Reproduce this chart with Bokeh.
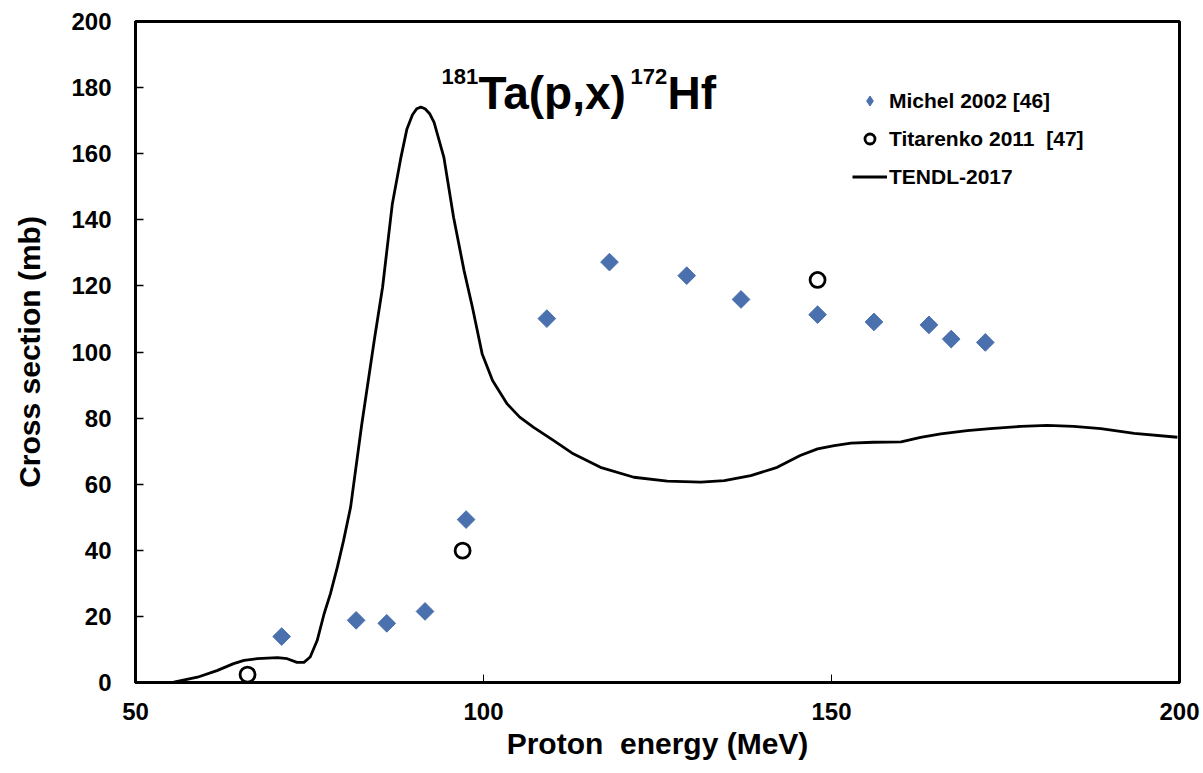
import math
from bokeh.plotting import figure
from bokeh.models import Label, Legend, LegendItem, FixedTicker, Range1d
from bokeh.embed import file_html
from bokeh.resources import INLINE

# ---------------- data ----------------
michel_energy = [71.0, 81.7, 86.1, 91.6, 97.5, 109.1, 118.1, 129.2, 137.0,
                 148.0, 156.1, 164.0, 167.2, 172.1]
michel_xs = [13.9, 18.8, 17.9, 21.5, 49.3, 110.1, 127.2, 123.1, 115.9,
             111.3, 109.1, 108.2, 103.9, 102.9]

titarenko_energy = [66.1, 97.0, 148.0]
titarenko_xs = [2.4, 39.9, 121.8]

tendl_energy = [55.5, 58.9, 61.7, 64.1, 65.6, 67.5, 70.4, 71.8, 73.2, 74.2,
                75.1, 76.1, 77.1, 78.0, 79.0, 79.9, 80.9, 82.5, 84.3, 85.5,
                86.9, 88.1, 89.0, 89.8, 90.4, 91.0, 91.6, 92.3, 92.9, 94.3,
                95.7, 97.2, 98.4, 99.8, 101.3, 103.4, 105.2, 107.2, 110.1,
                112.9, 116.8, 121.6, 126.4, 131.2, 134.6, 138.4, 142.2,
                145.5, 148.0, 150.4, 152.8, 156.0, 160.0, 162.8, 165.7,
                169.5, 172.8, 177.2, 181.0, 184.8, 188.7, 193.5, 199.7]
tendl_xs = [0.1, 1.6, 3.6, 5.7, 6.7, 7.2, 7.5, 7.2, 6.1, 6.1,
            7.7, 12.7, 20.8, 26.8, 34.9, 43.0, 53.0, 78.0, 103.5, 119.6,
            144.8, 158.5, 167.5, 171.8, 173.6, 174.1, 173.6, 172.0, 169.5, 159.0,
            140.8, 124.7, 113.6, 99.5, 91.4, 84.3, 80.3, 77.2, 73.2,
            69.2, 65.1, 62.1, 60.9, 60.6, 61.1, 62.6, 65.1,
            68.7, 70.7, 71.7, 72.4, 72.7, 72.8, 74.2, 75.2,
            76.2, 76.8, 77.5, 77.8, 77.5, 76.8, 75.4, 74.2]

x_ticks = [50, 100, 150, 200]
y_ticks = [0, 20, 40, 60, 80, 100, 120, 140, 160, 180, 200]

FONT = "Liberation Sans"
BLUE = "#4A70AE"

# ---------------- figure ----------------
W, H = 1203, 773
BL, BR, BT, BB = 135, 24, 21, 91
p = figure(width=W, height=H, output_backend="svg", toolbar_location=None,
           x_range=Range1d(50, 200), y_range=Range1d(0, 200),
           min_border_left=BL, min_border_right=BR,
           min_border_top=BT, min_border_bottom=BB)
p.grid.visible = False
p.outline_line_color = "black"
p.outline_line_width = 3
p.background_fill_color = "white"
p.border_fill_color = "white"

p.xaxis.ticker = FixedTicker(ticks=x_ticks)
p.yaxis.ticker = FixedTicker(ticks=y_ticks)
for ax in (p.xaxis[0], p.yaxis[0]):
    ax.axis_line_width = 3
    ax.axis_line_color = "black"
    ax.major_tick_in = 8
    ax.major_tick_out = 0
    ax.minor_tick_line_color = None
    ax.major_tick_line_color = "black"
    ax.major_label_text_font = FONT
    ax.major_label_text_font_style = "bold"
    ax.major_label_text_font_size = "24px"
    ax.major_label_text_color = "black"
    ax.axis_label_text_font = FONT
    ax.axis_label_text_font_style = "bold"
    ax.axis_label_text_font_size = "30px"
    ax.axis_label_text_color = "black"
p.xaxis.major_tick_line_width = 1
p.yaxis.major_tick_line_width = 1.5
p.xaxis.major_label_standoff = 20
p.yaxis.major_label_standoff = 24
p.xaxis.axis_label = "Proton\u00a0 energy (MeV)"
p.yaxis.axis_label = "Cross section (mb)"
p.xaxis.axis_label_standoff = 4
p.yaxis.axis_label_standoff = 22

# ---------------- marks ----------------
r_tendl = p.line(tendl_energy, tendl_xs, line_color="black", line_width=2.8,
                 line_join="round")
r_michel = p.scatter(michel_energy, michel_xs, marker="square", size=12.5,
                     angle=math.pi / 4, fill_color=BLUE, line_color=BLUE)
r_tit = p.scatter(titarenko_energy, titarenko_xs, marker="circle", size=15,
                  fill_color="white", line_color="black", line_width=2.8)
# legend-only renderer for the diamond symbol
r_michel_leg = p.scatter(michel_energy, michel_xs, marker="diamond", size=12,
                         fill_color=BLUE, line_color=BLUE, visible=False)

legend = Legend(items=[
    LegendItem(label="Michel 2002 [46]", renderers=[r_michel_leg]),
    LegendItem(label="Titarenko 2011\u00a0 [47]", renderers=[r_tit]),
    LegendItem(label="TENDL-2017", renderers=[r_tendl]),
], location=(717, 493), padding=0, margin=0, spacing=13,
    glyph_width=35, glyph_height=25, label_height=25, label_standoff=2,
    label_text_font=FONT, label_text_font_size="21px",
    label_text_font_style="bold", label_text_color="black",
    border_line_color=None, background_fill_alpha=0)
p.add_layout(legend)

# ---------------- title with superscripts ----------------
def ex(px):
    return 50 + (px - BL) * 150.0 / (W - BL - BR)

def vy(py):
    return (H - BB - py) * 200.0 / (H - BT - BB)

title_parts = [("181", 441, 76, "22px"), ("Ta(p,x)", 478, 92, "46px"),
               ("172", 630, 76, "22px"), ("Hf", 667, 92, "46px")]
for txt, px, py, fs in title_parts:
    p.add_layout(Label(x=ex(px), y=vy(py), text=txt, text_font=FONT,
                       text_font_style="bold", text_font_size=fs,
                       text_color="black", text_baseline="alphabetic",
                       text_align="left"))

open("out.html", "w").write(file_html(p, INLINE))
